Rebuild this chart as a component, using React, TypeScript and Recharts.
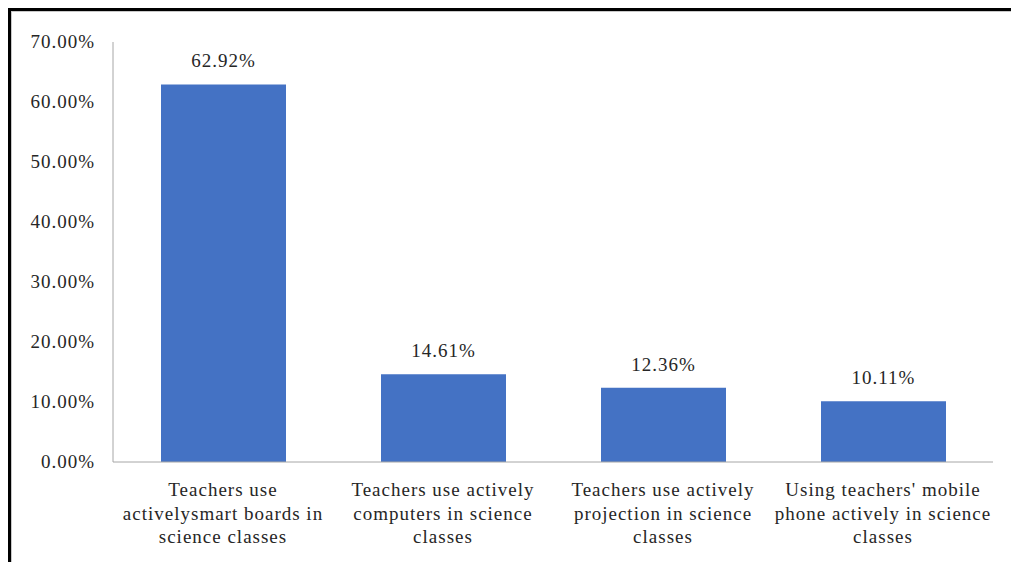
import { BarChart, Bar, XAxis, YAxis, LabelList } from 'recharts';

// Share of teachers by technology used in science classes (%)
const categoryLines = [
  ['Teachers use', 'activelysmart boards in', 'science classes'],
  ['Teachers use actively', 'computers in science', 'classes'],
  ['Teachers use actively', 'projection in science', 'classes'],
  ["Using teachers' mobile", 'phone actively in science', 'classes'],
];
const shares = [62.92, 14.61, 12.36, 10.11];
const yTicks = [0, 10, 20, 30, 40, 50, 60, 70];

const FONT = '"Times New Roman", "Liberation Serif", serif';
const TEXT_PROPS = { fontFamily: FONT, fontSize: 19, letterSpacing: 1, fill: '#262626' };

const data = shares.map((value, i) => ({ key: i, value }));

function CategoryTick(props: any) {
  const { x, y, payload } = props;
  const lines = categoryLines[payload.index] || [];
  return (
    <text x={x} y={y + 34} textAnchor="middle" {...TEXT_PROPS}>
      {lines.map((line, i) => (
        <tspan key={i} x={x} dy={i === 0 ? 0 : 23.5}>
          {line}
        </tspan>
      ))}
    </text>
  );
}

function ValueTick(props: any) {
  const { x, y, payload } = props;
  return (
    <text x={x} y={y + 6} textAnchor="end" {...TEXT_PROPS}>
      {`${Number(payload.value).toFixed(2)}%`}
    </text>
  );
}

function TopLabel(props: any) {
  const { x, y, width, value } = props;
  return (
    <text x={x + width / 2} y={y - 17} textAnchor="middle" {...TEXT_PROPS}>
      {`${Number(value).toFixed(2)}%`}
    </text>
  );
}

export default function App() {
  return (
    <div style={{ position: 'fixed', left: 0, top: 0, width: 1011, height: 562, background: '#fff', overflow: 'hidden' }}>
      {/* outer frame, open to the right and bottom */}
      <div
        style={{
          position: 'absolute',
          left: 8,
          top: 8,
          width: 1100,
          height: 600,
          borderTop: '3px solid #000',
          borderLeft: '3px solid #000',
        }}
      >
        <div
          style={{
            position: 'absolute',
            left: 0,
            top: 0,
            width: 1100,
            height: 600,
            borderTop: '1px solid #c8c8c8',
            borderLeft: '1px solid #c8c8c8',
          }}
        />
      </div>
      <div style={{ position: 'absolute', left: 0, top: 0 }}>
        <BarChart width={1011} height={562} data={data} margin={{ top: 42, right: 18, bottom: 70, left: 0 }}>
          <XAxis
            dataKey="key"
            height={30}
            tickLine={false}
            tickSize={0}
            tickMargin={0}
            stroke="#a6a6a6"
            tick={<CategoryTick />}
            interval={0}
          />
          <YAxis
            width={113}
            domain={[0, 70]}
            ticks={yTicks}
            tickLine={false}
            tickSize={6}
            tickMargin={12}
            stroke="#a6a6a6"
            tick={<ValueTick />}
          />
          <Bar dataKey="value" fill="#4472C4" barSize={125} isAnimationActive={false}>
            <LabelList dataKey="value" content={<TopLabel />} />
          </Bar>
        </BarChart>
      </div>
    </div>
  );
}
